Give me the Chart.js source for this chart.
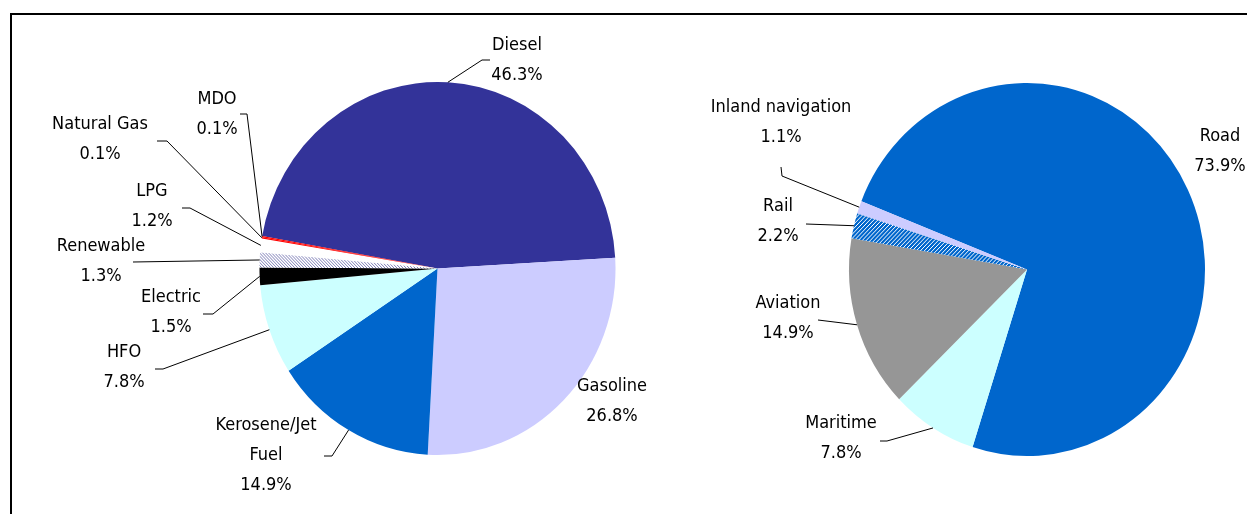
<!DOCTYPE html>
<html>
<head>
<meta charset="utf-8">
<script src="https://cdn.jsdelivr.net/npm/chart.js@4.4.0/dist/chart.umd.min.js"></script>
<style>
html, body { margin: 0; padding: 0; background: #fff; overflow: hidden; }
#wrap { position: relative; width: 1247px; height: 514px; }
#frame { position: absolute; left: 10px; top: 13px; width: 1300px; height: 600px;
         border-top: 2px solid #000; border-left: 2px solid #000; }
canvas { position: absolute; top: 0; }
</style>
</head>
<body>
<div id="wrap">
  <div id="frame"></div>
  <canvas id="fuelPie" width="700" height="514" style="left:0px"></canvas>
  <canvas id="modePie" width="607" height="514" style="left:640px"></canvas>
</div>
<script>
// fuel shares (left pie), clockwise starting with Diesel
const fuel_labels = ['Diesel', 'Gasoline', 'Kerosene/Jet Fuel', 'HFO', 'Electric', 'Renewable', 'LPG', 'Natural Gas', 'MDO'];
const fuel_share = [46.3, 26.8, 14.9, 7.8, 1.5, 1.3, 1.2, 0.1, 0.1];

// transport mode shares (right pie), clockwise starting with Road
const mode_labels = ['Road', 'Maritime', 'Aviation', 'Rail', 'Inland navigation'];
const mode_share = [73.9, 7.8, 14.9, 2.2, 1.1];

// the pies in the original are a bit taller than wide
const SY = 1.048;
const FONT = '18px "DejaVu Sans Condensed", "DejaVu Sans", sans-serif';
const LINE_H = 30;

// small fill patterns (hatch for Renewable, checker for Rail)
function makePattern(size, bg, fg, pixels) {
    const c = document.createElement('canvas');
    c.width = size; c.height = size;
    const g = c.getContext('2d');
    g.fillStyle = bg;
    g.fillRect(0, 0, size, size);
    g.fillStyle = fg;
    pixels.forEach(p => g.fillRect(p[0], p[1], 1, 1));
    return g.createPattern(c, 'repeat');
}
const hatchRenew = makePattern(3, '#ffffff', '#8080b8', [[0, 0], [1, 1], [2, 2]]);
const checkRail = makePattern(4, '#0066cc', '#ffffff', [[0, 3], [1, 2], [2, 1], [3, 0]]);

const fuel_colors = ['#333399', '#ccccff', '#0066cc', '#ccffff', '#000000', hatchRenew, '#ffffff', '#ff0000', '#ff0000'];
const mode_colors = ['#0066cc', '#ccffff', '#969696', checkRail, '#ccccff'];

// label placement: centre of first text line, then leader elbow points (label side first)
const fuel_layout = [
    { x: 517, y: 45, leader: [[490, 60], [482, 60]] },
    { x: 612, y: 386, leader: null },
    { x: 266, y: 425, wrap: true, leader: [[324, 456], [332, 456]] },
    { x: 124, y: 352, leader: [[155, 369], [163, 369]] },
    { x: 171, y: 297, leader: [[203, 314], [213, 314]] },
    { x: 101, y: 246, leader: [[133, 262]] },
    { x: 152, y: 191, leader: [[182, 208], [190, 208]] },
    { x: 100, y: 124, leader: [[157, 141], [167, 141]] },
    { x: 217, y: 99, leader: [[240, 114], [247, 114]] },
];
const mode_layout = [
    { x: 580, y: 136, leader: null },
    { x: 201, y: 423, leader: [[240, 441], [247, 441]] },
    { x: 148, y: 303, leader: [[178, 320]] },
    { x: 138, y: 206, leader: [[166, 224]] },
    { x: 141, y: 107, leader: [[141, 167], [142, 176]] },
];

const squashPlugin = {
    id: 'squash',
    beforeDatasetsDraw(chart) {
        const arc = chart.getDatasetMeta(0).data[0];
        const ctx = chart.ctx;
        ctx.save();
        ctx.translate(arc.x, arc.y);
        ctx.scale(1, SY);
        ctx.translate(-arc.x, -arc.y);
    },
    afterDatasetsDraw(chart) {
        chart.ctx.restore();
    }
};

const labelPlugin = {
    id: 'sliceLabels',
    afterDraw(chart, args, opts) {
        const ctx = chart.ctx;
        const labels = chart.data.labels;
        const values = chart.data.datasets[0].data;
        const meta = chart.getDatasetMeta(0);
        ctx.save();
        ctx.font = FONT;
        ctx.fillStyle = '#000';
        ctx.textAlign = 'center';
        ctx.textBaseline = 'middle';
        opts.layout.forEach((lay, i) => {
            let lines = [labels[i]];
            if (lay.wrap) {
                const k = labels[i].lastIndexOf(' ');
                lines = [labels[i].slice(0, k), labels[i].slice(k + 1)];
            }
            lines.push(values[i].toFixed(1) + '%');
            lines.forEach((t, j) => ctx.fillText(t, lay.x, lay.y + j * LINE_H));

            if (lay.leader) {
                const a = meta.data[i].getProps(['x', 'y', 'startAngle', 'endAngle', 'outerRadius'], true);
                const mid = (a.startAngle + a.endAngle) / 2;
                const ex = a.x + Math.cos(mid) * a.outerRadius;
                const ey = a.y + Math.sin(mid) * a.outerRadius * SY;
                ctx.beginPath();
                ctx.strokeStyle = '#000';
                ctx.lineWidth = 1;
                ctx.moveTo(lay.leader[0][0], lay.leader[0][1]);
                lay.leader.slice(1).forEach(p => ctx.lineTo(p[0], p[1]));
                ctx.lineTo(ex, ey);
                ctx.stroke();
            }
        });
        ctx.restore();
    }
};

function pieConfig(labels, values, colors, rotation, padding, layout) {
    return {
        type: 'pie',
        data: {
            labels: labels,
            datasets: [{
                data: values,
                backgroundColor: colors,
                borderWidth: 0,
            }]
        },
        options: {
            responsive: false,
            animation: false,
            events: [],
            rotation: rotation,
            layout: { padding: padding },
            plugins: {
                legend: { display: false },
                tooltip: { enabled: false },
                sliceLabels: { layout: layout },
            }
        },
        plugins: [squashPlugin, labelPlugin]
    };
}

new Chart(document.getElementById('fuelPie'),
    pieConfig(fuel_labels, fuel_share, fuel_colors, -80,
        { left: 259.5, right: 84.5, top: 90.5, bottom: 67.5 }, fuel_layout));

new Chart(document.getElementById('modePie'),
    pieConfig(mode_labels, mode_share, mode_colors, -68.5,
        { left: 209, right: 42, top: 91.5, bottom: 66.5 }, mode_layout));
</script>
</body>
</html>
